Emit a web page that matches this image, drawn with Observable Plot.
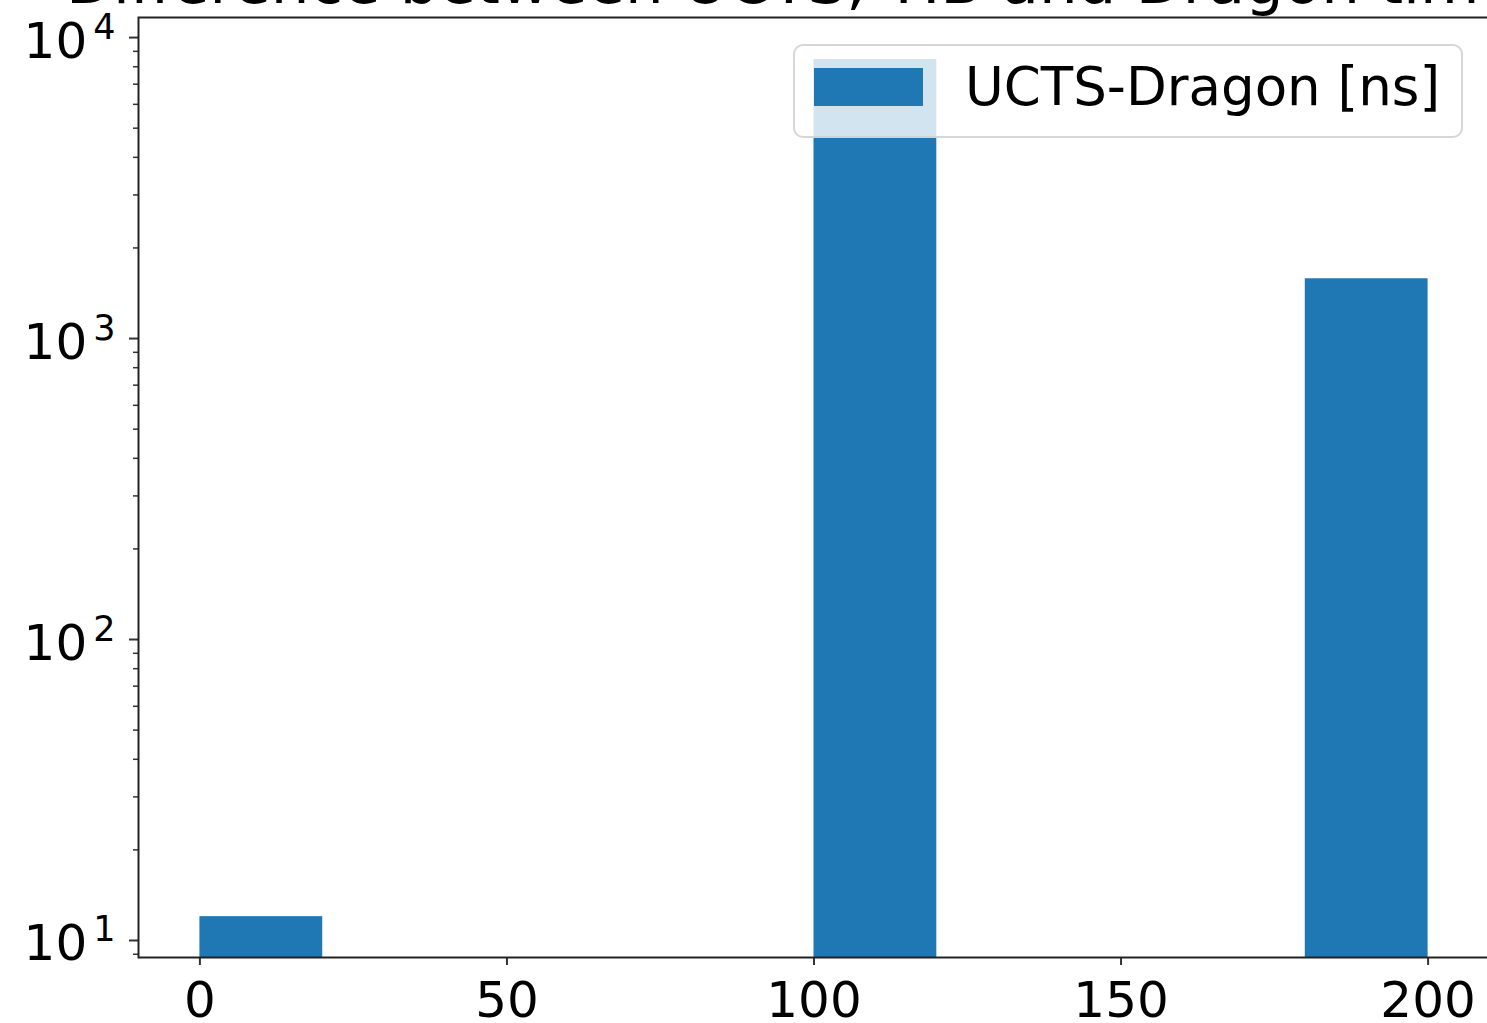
<!DOCTYPE html>
<html><head><meta charset="utf-8">
<script src="https://cdn.jsdelivr.net/npm/d3@7"></script>
<script src="https://cdn.jsdelivr.net/npm/@observablehq/plot@0.6"></script>
<style>
html,body{margin:0;padding:0;background:#fff;overflow:hidden;width:1487px;height:1023px;}
#wrap{position:relative;width:1487px;height:1023px;overflow:hidden;font-family:"DejaVu Sans";}
#chart{position:absolute;left:0;top:0;width:1490px;}
#chart svg{max-width:none !important;}
#titlebox{position:absolute;left:0;top:0;width:1487px;height:30px;overflow:hidden;}
#legend{position:absolute;left:793px;top:44px;width:666px;height:90px;border:2px solid rgba(210,210,210,0.9);border-radius:10px;background:rgba(255,255,255,0.8);box-sizing:content-box;}
#legend .patch{position:absolute;left:19px;top:22px;width:109px;height:38px;}
#legend .label{position:absolute;left:170px;top:11px;font-size:53px;line-height:60px;white-space:nowrap;color:#000;}
</style></head><body>
<div id="wrap"><div id="chart"></div>
<svg id="titlebox" width="1487" height="30"><text id="title" x="66" y="3" font-family="DejaVu Sans" font-size="61" fill="#000"></text></svg>
<div id="legend"><div class="patch"></div><div class="label"></div></div></div>
<script>
const titleText = "Difference between UCTS, TIB and Dragon timestamps";
const seriesName = "UCTS-Dragon [ns]";
const barColor = "#1f77b4";
const binStarts = [0, 20, 40, 60, 80, 100, 120, 140, 160, 180];
const binEnds   = [20, 40, 60, 80, 100, 120, 140, 160, 180, 200];
const counts    = [12, 0, 0, 0, 0, 8450, 0, 0, 0, 1580];
const xTicks = [0, 50, 100, 150, 200];
const yTicks = [10, 100, 1000, 10000];
const yExponents = ["1", "2", "3", "4"];
const xDomain = [-10, 210];
const yDomain = [8.78, 11660];

const bars = binStarts.map((s, i) => ({x1: s, x2: binEnds[i], count: counts[i]})).filter(d => d.count > 0);
const minorTicks = [];
for (const dec of [1, 10, 100, 1000]) for (let k = 2; k <= 9; k++) {
  const v = k * dec;
  if (v >= yDomain[0] && v <= yDomain[1]) minorTicks.push(v);
}

document.getElementById("title").textContent = titleText;
document.querySelector("#legend .label").textContent = seriesName;
document.querySelector("#legend .patch").style.background = barColor;

const chart = Plot.plot({
  width: 1490, height: 1023,
  marginLeft: 138, marginRight: 1, marginTop: 17, marginBottom: 66,
  style: {fontFamily: "DejaVu Sans", fontSize: "50px", color: "#000", background: "transparent", overflow: "visible", maxWidth: "none"},
  x: {domain: xDomain},
  y: {type: "log", domain: yDomain},
  marks: [
    Plot.rect(bars, {x1: "x1", x2: "x2", y1: () => 1, y2: "count", fill: barColor, clip: true}),
    Plot.axisX({ticks: xTicks, tickSize: 8, tickPadding: 16, fontSize: 50, tickFormat: d => String(d), stroke: "#333", strokeWidth: 2, label: null}),
    Plot.axisY({ticks: yTicks, tickSize: 9, tickPadding: 14, fontSize: 50, tickFormat: d => "10^" + yExponents[yTicks.indexOf(d)], stroke: "#333", strokeWidth: 2, label: null}),
    Plot.axisY({ticks: minorTicks, tickSize: 5, tickFormat: () => "", stroke: "#333", strokeWidth: 1.5, label: null}),
    Plot.frame({stroke: "#222", strokeWidth: 2})
  ]
});
document.getElementById("chart").appendChild(chart);

chart.querySelectorAll('g[aria-label="y-axis tick label"] text').forEach(t => {
  const s = t.textContent;
  if (!s.includes("^")) return;
  const [base, exp] = s.split("^");
  t.textContent = "";
  t.setAttribute("y", "20");
  t.appendChild(document.createTextNode(base));
  const sup = document.createElementNS("http://www.w3.org/2000/svg", "tspan");
  sup.setAttribute("font-size", "35");
  sup.setAttribute("dy", "-19");
  sup.setAttribute("dx", "6");
  sup.textContent = exp;
  t.appendChild(sup);
});
</script>
</body></html>
